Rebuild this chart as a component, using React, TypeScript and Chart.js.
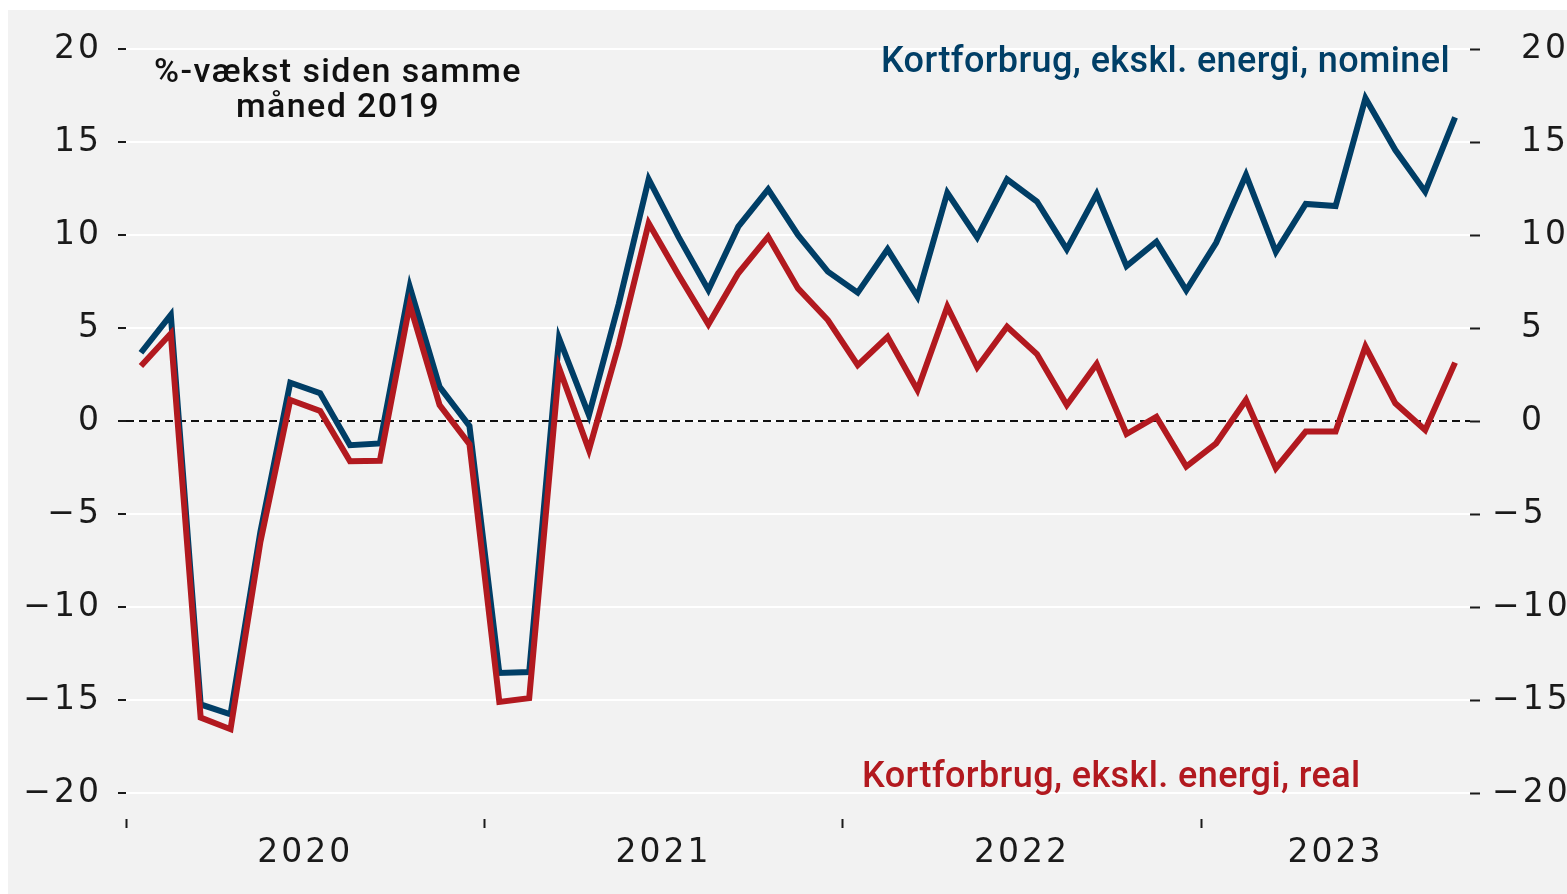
import React, { useEffect, useRef } from "react";
import { Chart, registerables } from "chart.js";

Chart.register(...registerables);

// Monthly categories, Jan 2020 – Sep 2023
const months: string[] = [
  "2020-01", "2020-02", "2020-03", "2020-04", "2020-05", "2020-06", "2020-07", "2020-08", "2020-09", "2020-10", "2020-11", "2020-12",
  "2021-01", "2021-02", "2021-03", "2021-04", "2021-05", "2021-06", "2021-07", "2021-08", "2021-09", "2021-10", "2021-11", "2021-12",
  "2022-01", "2022-02", "2022-03", "2022-04", "2022-05", "2022-06", "2022-07", "2022-08", "2022-09", "2022-10", "2022-11", "2022-12",
  "2023-01", "2023-02", "2023-03", "2023-04", "2023-05", "2023-06", "2023-07", "2023-08", "2023-09",
];

const yearLabels: string[] = ["2020", "2021", "2022", "2023"];

const nominal: number[] = [
  3.67, 5.7, -15.24, -15.77, -5.95, 2.06, 1.49, -1.3, -1.21, 7.22, 1.84, -0.27,
  -13.55, -13.5, 4.45, 0.32, 6.3, 13.0, 9.9, 7.04, 10.45, 12.45, 10.0, 8.03,
  6.9, 9.23, 6.68, 12.27, 9.87, 12.99, 11.8, 9.23, 12.2, 8.33, 9.64, 7.02,
  9.58, 13.23, 9.1, 11.67, 11.56, 17.35, 14.57, 12.33, 16.33,
];

const real: number[] = [
  2.96, 4.7, -15.95, -16.57, -6.5, 1.13, 0.54, -2.16, -2.14, 6.27, 0.86, -1.25,
  -15.1, -14.9, 2.85, -1.56, 4.1, 10.63, 7.85, 5.2, 7.94, 9.91, 7.13, 5.43,
  3.0, 4.53, 1.67, 6.15, 2.89, 5.07, 3.6, 0.86, 3.06, -0.7, 0.23, -2.45,
  -1.2, 1.13, -2.54, -0.57, -0.57, 4.0, 0.95, -0.48, 3.14,
];

const yTicks: number[] = [-20, -15, -10, -5, 0, 5, 10, 15, 20];

const titleLines: string[] = ["%-vækst siden samme", "måned 2019"];
const nominalLabel = "Kortforbrug, ekskl. energi, nominel";
const realLabel = "Kortforbrug, ekskl. energi, real";

const BLUE = "#003e66";
const RED = "#b2191f";
const BG = "#f2f2f2";
const INK = "#1a1a1a";
const TICK_FONT = "'DejaVu Sans', sans-serif";
const TEXT_FONT = "Roboto, 'Noto Sans', sans-serif";

const W = 1559;
const H = 884;

const letterSpacingPlugin = {
  id: "letterSpacing",
  beforeDraw(chart: any) {
    chart.ctx.letterSpacing = "3px";
  },
  afterDraw(chart: any) {
    chart.ctx.letterSpacing = "0px";
  },
};

// year boundaries and label positions (centre of each year's covered span)
const yearStarts: number[] = yearLabels.map((_, i) => i * 12);
const yearMids: number[] = yearLabels.map((_, i) => {
  const start = i * 12;
  const end = Math.min(start + 12, months.length);
  return (start + end) / 2;
});

export default function App() {
  const canvasRef = useRef<HTMLCanvasElement | null>(null);

  useEffect(() => {
    const canvas = canvasRef.current;
    if (!canvas) return;
    const toPoints = (vals: number[]) => months.map((_, i) => ({ x: i + 0.5, y: vals[i] }));
    const chart = new Chart(canvas, {
      type: "line",
      data: {
        datasets: [
          {
            label: realLabel,
            data: toPoints(real),
            borderColor: RED,
            borderWidth: 6,
            pointRadius: 0,
            tension: 0,
            order: 0,
          },
          {
            label: nominalLabel,
            data: toPoints(nominal),
            borderColor: BLUE,
            borderWidth: 6,
            pointRadius: 0,
            tension: 0,
            order: 1,
          },
          {
            label: "0",
            data: [
              { x: 0, y: 0 },
              { x: months.length, y: 0 },
            ],
            borderColor: "#111111",
            borderWidth: 2,
            borderDash: [8, 5],
            pointRadius: 0,
            order: 2,
          },
        ],
      },
      options: {
        responsive: false,
        maintainAspectRatio: false,
        animation: false,
        devicePixelRatio: 1,
        layout: { padding: { top: 39, left: 0, right: 0, bottom: 0 } },
        plugins: {
          legend: { display: false },
          tooltip: { enabled: false },
          title: { display: false },
        },
        scales: {
          x: {
            type: "linear",
            position: "bottom",
            min: 0,
            max: months.length,
            afterBuildTicks: (scale: any) => {
              const t: any[] = [];
              yearStarts.forEach((s, i) => {
                t.push({ value: s, kind: "start" });
                t.push({ value: yearMids[i], kind: "mid", label: yearLabels[i] });
              });
              scale.ticks = t;
            },
            afterFit: (scale: any) => {
              scale.height = 101;
            },
            ticks: {
              autoSkip: false,
              maxRotation: 0,
              padding: 6,
              color: INK,
              font: { family: TICK_FONT, size: 33 },
              callback: (value: any) => {
                const v = Number(value);
                const idx = yearMids.indexOf(v);
                return idx >= 0 ? yearLabels[idx] : "";
              },
            },
            grid: {
              display: true,
              drawOnChartArea: false,
              drawTicks: true,
              tickLength: 35,
              tickWidth: 2,
              tickBorderDash: [0, 26, 9, 200],
              tickColor: (ctx: any) =>
                ctx.tick && yearStarts.indexOf(Number(ctx.tick.value)) >= 0 ? INK : "rgba(0,0,0,0)",
            },
            border: { display: false },
          },
          y: {
            type: "linear",
            position: "left",
            min: -20,
            max: 20,
            afterBuildTicks: (scale: any) => {
              scale.ticks = yTicks.map((v) => ({ value: v }));
            },
            afterFit: (scale: any) => {
              scale.width = 118;
            },
            ticks: {
              padding: 16,
              color: INK,
              font: { family: TICK_FONT, size: 33 },
              callback: (value: any) => {
                const v = Number(value);
                return v < 0 ? "\u2212" + Math.abs(v) : String(v);
              },
            },
            grid: {
              color: "#ffffff",
              lineWidth: 2,
              drawTicks: true,
              tickLength: 8,
              tickWidth: 2,
              tickColor: INK,
            },
            border: { display: false },
          },
          y2: {
            type: "linear",
            position: "right",
            min: -20,
            max: 20,
            afterBuildTicks: (scale: any) => {
              scale.ticks = yTicks.map((v) => ({ value: v }));
            },
            afterFit: (scale: any) => {
              scale.width = W - 1462;
            },
            ticks: {
              padding: 12,
              color: INK,
              font: { family: TICK_FONT, size: 33 },
              callback: (value: any) => {
                const v = Number(value);
                return v < 0 ? "\u2212" + Math.abs(v) : "\u2002\u2009" + v;
              },
            },
            grid: {
              drawOnChartArea: false,
              drawTicks: true,
              tickLength: 10,
              tickWidth: 2,
              tickColor: INK,
            },
            border: { display: false },
          },
        },
      },
      plugins: [letterSpacingPlugin],
    } as any);
    return () => chart.destroy();
  }, []);

  return (
    <div
      style={{
        position: "fixed",
        left: 8,
        top: 10,
        width: W,
        height: H,
        background: BG,
        overflow: "hidden",
      }}
    >
      <canvas ref={canvasRef} width={W} height={H} style={{ display: "block", width: W, height: H }} />
      <div
        style={{
          position: "absolute",
          left: 330 - 200,
          width: 400,
          top: 43,
          textAlign: "center",
          fontFamily: TEXT_FONT,
          fontWeight: 500,
          fontSize: 34,
          lineHeight: "35px",
          letterSpacing: "1.4px",
          color: "#111111",
          whiteSpace: "nowrap",
        }}
      >
        {titleLines.map((l) => (
          <div key={l}>{l}</div>
        ))}
      </div>
      <div
        style={{
          position: "absolute",
          right: W - 1442,
          top: 32,
          fontFamily: TEXT_FONT,
          fontWeight: 500,
          fontSize: 36,
          lineHeight: "36px",
          letterSpacing: "0.4px",
          color: BLUE,
          whiteSpace: "nowrap",
        }}
      >
        {nominalLabel}
      </div>
      <div
        style={{
          position: "absolute",
          left: 854,
          top: 747,
          fontFamily: TEXT_FONT,
          fontWeight: 500,
          fontSize: 36,
          lineHeight: "36px",
          letterSpacing: "0.4px",
          color: RED,
          whiteSpace: "nowrap",
        }}
      >
        {realLabel}
      </div>
    </div>
  );
}
